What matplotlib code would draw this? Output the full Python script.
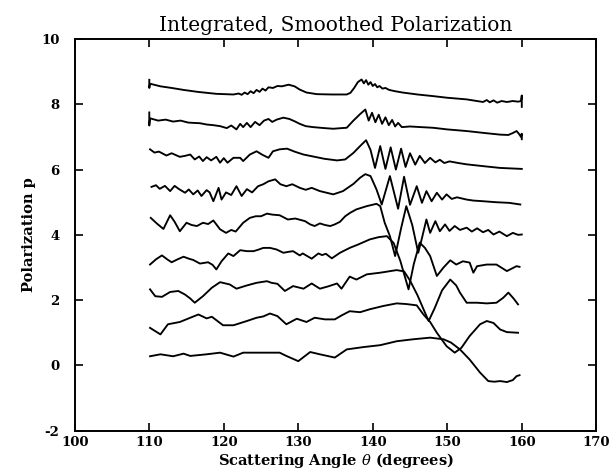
import matplotlib
matplotlib.use("Agg")
import matplotlib.pyplot as plt

plt.rcParams['font.family'] = ['DejaVu Serif']
plt.rcParams['mathtext.fontset'] = 'dejavuserif'

# ---- data (scattering angle in degrees, polarization) ----
c8_x = [110, 110, 110.1, 111.5, 113, 114.6, 116.5, 119, 121.3, 122.0, 122.4, 122.8, 123.2, 123.6, 124.0,
        124.4, 124.8, 125.2, 125.6, 126.0, 126.6, 127.2, 127.8, 128.7, 129.5, 130.2, 131.1, 132.5, 134.5,
        136.5, 137.0, 137.5, 138.0, 138.5, 138.8, 139.1, 139.4, 139.7, 140.0, 140.3, 140.6, 140.9, 141.3,
        141.7, 142.2, 143.0, 144.0, 146, 148.1, 150, 152.6, 154.8, 155.3, 155.7, 156.2, 156.7, 157.3, 158,
        158.8, 159.5, 159.9, 160, 160]
c8_y = [8.75, 8.5, 8.63, 8.55, 8.5, 8.44, 8.38, 8.32, 8.3, 8.33, 8.29, 8.36, 8.31, 8.4, 8.34,
        8.44, 8.38, 8.48, 8.42, 8.52, 8.5, 8.56, 8.55, 8.6, 8.55, 8.45, 8.36, 8.31, 8.3,
        8.3, 8.35, 8.5, 8.68, 8.76, 8.64, 8.74, 8.6, 8.68, 8.56, 8.62, 8.52, 8.56, 8.48,
        8.5, 8.44, 8.4, 8.36, 8.3, 8.25, 8.2, 8.15, 8.07, 8.13, 8.06, 8.12, 8.05, 8.1, 8.07,
        8.1, 8.08, 8.1, 8.27, 7.92]

c7_x = [110, 110, 110.1, 111.2, 112.2, 113.2, 114.2, 115.2, 115.9, 116.8, 117.7, 118.6, 119.5, 120.4, 121.0,
        121.7, 122.2, 122.6, 123.1, 123.6, 124.2, 124.8, 125.4, 126.0, 126.5, 127.1, 128.0, 128.8, 129.5,
        130.2, 131.0, 132.0, 133.5, 134.7, 135.8, 136.5, 137.4, 138.3, 139.0, 139.45, 139.9, 140.35, 140.8,
        141.25, 141.7, 142.15, 142.6, 143.0, 143.4, 143.9, 145, 146.5, 148.1, 150, 152.6, 155, 157.1, 158.2,
        158.8, 159.3, 159.6, 159.9, 160, 160]
c7_y = [7.75, 7.35, 7.57, 7.5, 7.53, 7.47, 7.5, 7.44, 7.43, 7.42, 7.38, 7.36, 7.33, 7.27, 7.35,
        7.23, 7.4, 7.3, 7.43, 7.3, 7.46, 7.36, 7.5, 7.55, 7.46, 7.53, 7.59, 7.55, 7.48,
        7.4, 7.33, 7.3, 7.27, 7.25, 7.27, 7.28, 7.5, 7.7, 7.84, 7.5, 7.74, 7.45, 7.68,
        7.4, 7.6, 7.36, 7.52, 7.32, 7.43, 7.3, 7.32, 7.3, 7.28, 7.23, 7.18, 7.12, 7.07, 7.06,
        7.12, 7.18, 7.1, 7.0, 7.1, 6.93]

c6_x = [110.1, 110.7, 111.3, 112.3, 113.0, 114.1, 114.8, 115.5, 116.1, 116.7, 117.2, 117.7, 118.3, 119.0,
        119.5, 120.0, 120.5, 121.3, 122.2, 122.6, 123.5, 124.4, 125.2, 126.0, 126.6, 127.5, 128.5, 129.5,
        130.7, 132.0, 133.5, 135.2, 136.3, 137.4, 138.3, 139.1, 139.7, 140.3, 141.0, 141.7, 142.4, 143.1,
        143.8, 144.4, 145.0, 145.7, 146.3, 147.0, 147.7, 148.4, 149.0, 149.6, 150.3, 151.5, 152.6, 155,
        157.1, 160]
c6_y = [6.62, 6.52, 6.55, 6.43, 6.5, 6.39, 6.42, 6.46, 6.31, 6.4, 6.26, 6.38, 6.28, 6.39,
        6.21, 6.35, 6.21, 6.36, 6.36, 6.26, 6.46, 6.56, 6.45, 6.36, 6.56, 6.62, 6.64, 6.55,
        6.46, 6.4, 6.33, 6.28, 6.31, 6.51, 6.72, 6.9, 6.6, 6.05, 6.72, 6.02, 6.68, 6.0,
        6.64, 6.08, 6.5, 6.15, 6.42, 6.2, 6.36, 6.22, 6.3, 6.2, 6.25, 6.2, 6.16, 6.1,
        6.05, 6.02]

c5_x = [110.3, 110.9, 111.4, 112.1, 112.8, 113.4, 114.0, 114.8, 115.3, 115.9, 116.5, 117.0, 117.7, 118.1,
        118.6, 119.3, 119.7, 120.3, 121.0, 121.7, 122.4, 123.1, 123.8, 124.6, 125.3, 126.0, 126.9, 127.6,
        128.4, 129.2, 130.2, 131.0, 131.8, 132.9, 133.8, 134.7, 136.0, 137.4, 138.3, 139.0, 139.7, 140.5,
        141.2, 142.3, 143.4, 144.2, 145.0, 145.9, 146.6, 147.2, 147.9, 148.6, 149.3, 149.9, 150.6, 151.3,
        152.6, 153.5, 154.8, 156.5, 158.3, 159.8]
c5_y = [5.47, 5.52, 5.41, 5.5, 5.34, 5.5, 5.4, 5.29, 5.39, 5.24, 5.36, 5.19, 5.37, 5.3,
        5.03, 5.44, 5.08, 5.3, 5.22, 5.49, 5.19, 5.4, 5.3, 5.49, 5.55, 5.64, 5.7, 5.55,
        5.49, 5.55, 5.44, 5.38, 5.44, 5.34, 5.29, 5.24, 5.34, 5.56, 5.75, 5.86, 5.8, 5.39,
        4.93, 5.8, 4.8, 5.78, 4.92, 5.49, 4.98, 5.34, 5.03, 5.29, 5.08, 5.24, 5.1, 5.15,
        5.08, 5.05, 5.03, 5.0, 4.98, 4.93]

c4_x = [110.2, 111.0, 111.9, 112.8, 113.4, 114.1, 115.0, 115.7, 116.4, 117.2, 117.9, 118.6, 119.5, 120.3,
        121.0, 121.6, 122.6, 123.5, 124.3, 125.0, 125.8, 126.5, 127.5, 128.6, 129.6, 130.9, 131.6, 132.2,
        132.9, 133.6, 134.3, 134.9, 135.6, 136.3, 137.0, 137.8, 139.2, 140.5, 141.0, 141.6, 142.3, 143.0,
        143.8, 144.5, 145.3, 146.1, 146.6, 147.2, 147.7, 148.4, 149.0, 149.7, 150.3, 151.0, 151.7, 152.6,
        153.3, 154.0, 154.8, 155.5, 156.2, 157.0, 158.0, 158.8, 159.5, 160]
c4_y = [4.52, 4.35, 4.18, 4.6, 4.4, 4.11, 4.37, 4.3, 4.27, 4.37, 4.33, 4.44, 4.17, 4.06,
        4.15, 4.1, 4.37, 4.52, 4.57, 4.57, 4.65, 4.62, 4.6, 4.47, 4.5, 4.42, 4.32, 4.27,
        4.35, 4.3, 4.27, 4.32, 4.4, 4.57, 4.68, 4.78, 4.88, 4.95, 4.88, 4.37, 3.96, 3.35,
        4.2, 4.88, 4.3, 3.45, 3.9, 4.47, 4.06, 4.42, 4.11, 4.32, 4.12, 4.27, 4.15, 4.22,
        4.1, 4.2, 4.08, 4.15, 4.01, 4.1, 3.96, 4.06, 4.0, 4.01]

c3_x = [110.1, 110.9, 111.7, 112.4, 113.0, 113.8, 114.6, 115.3, 115.9, 116.8, 117.9, 118.5, 119.0, 119.7,
        120.6, 121.3, 122.2, 123.1, 124.0, 124.7, 125.3, 126.2, 127.1, 128.0, 128.7, 129.3, 130.2, 130.6,
        131.2, 131.8, 132.7, 133.2, 133.7, 134.5, 135.6, 136.9, 138.0, 139.6, 140.8, 141.9, 142.8, 143.7,
        144.8, 145.5, 146.3, 147.0, 147.7, 148.6, 149.5, 150.4, 151.2, 152.1, 153.0, 153.5, 154.0, 155.3,
        156.6, 158.0, 159.3, 159.7]
c3_y = [3.09, 3.25, 3.37, 3.25, 3.16, 3.25, 3.33, 3.27, 3.23, 3.12, 3.16, 3.08, 2.94, 3.19,
        3.43, 3.35, 3.53, 3.5, 3.5, 3.55, 3.6, 3.6, 3.55, 3.45, 3.48, 3.5, 3.37, 3.43,
        3.35, 3.27, 3.43, 3.38, 3.42, 3.28, 3.45, 3.6, 3.7, 3.86, 3.93, 3.96, 3.75, 3.2,
        2.33, 3.1, 3.76, 3.6, 3.35, 2.74, 3.0, 3.22, 3.09, 3.19, 3.15, 2.84, 3.04, 3.09,
        3.09, 2.89, 3.04, 3.02]

c2_x = [110.1, 110.8, 111.7, 112.8, 113.9, 114.8, 115.5, 116.1, 117.2, 118.4, 119.5, 120.8, 121.7, 123.1,
        124.4, 125.8, 126.4, 127.2, 128.2, 129.3, 130.7, 131.8, 132.9, 134.0, 135.2, 135.8, 136.9, 137.8,
        139.2, 141.0, 143.2, 144.2, 145.0, 146.0, 147.0, 147.5, 148.3, 149.3, 150.4, 151.2, 151.7, 152.6,
        154.0, 155.3, 156.6, 157.5, 158.2, 158.9, 159.5]
c2_y = [2.33, 2.12, 2.1, 2.25, 2.28, 2.17, 2.05, 1.92, 2.12, 2.38, 2.55, 2.48, 2.35, 2.45,
        2.53, 2.58, 2.53, 2.5, 2.28, 2.43, 2.35, 2.51, 2.35, 2.42, 2.51, 2.35, 2.72, 2.63,
        2.79, 2.84, 2.92, 2.88, 2.6, 2.15, 1.62, 1.36, 1.75, 2.3, 2.63, 2.45, 2.23, 1.92,
        1.92, 1.9, 1.92, 2.07, 2.23, 2.05, 1.87]

c1_x = [110.1, 111.5, 112.5, 114.1, 115.5, 116.6, 117.7, 118.4, 119.9, 121.3, 123.1, 124.4, 125.3, 126.2,
        127.2, 128.4, 129.8, 131.1, 132.2, 133.6, 134.9, 135.8, 136.9, 138.3, 139.6, 141.4, 143.2, 144.5,
        145.9, 146.8, 147.7, 148.6, 149.9, 151.0, 151.9, 153.0, 154.4, 155.3, 156.2, 157.1, 158.0, 159.5]
c1_y = [1.15, 0.95, 1.26, 1.33, 1.46, 1.56, 1.44, 1.49, 1.23, 1.23, 1.36, 1.46, 1.5, 1.59,
        1.51, 1.26, 1.43, 1.33, 1.46, 1.41, 1.41, 1.53, 1.66, 1.63, 1.72, 1.82, 1.9, 1.88,
        1.84, 1.56, 1.33, 1.0, 0.59, 0.39, 0.54, 0.9, 1.26, 1.36, 1.3, 1.1, 1.02, 1.0]

c0_x = [110.1, 111.5, 113.2, 114.6, 115.5, 117.7, 119.5, 121.3, 122.6, 124.9, 126.5, 127.5, 128.4, 130.0,
        131.6, 132.9, 134.9, 136.5, 138.7, 141.0, 143.2, 145.4, 147.7, 149.5, 150.5, 151.7, 153.0, 154.4,
        155.5, 156.3, 157.1, 158.0, 158.8, 159.3, 159.7]
c0_y = [0.28, 0.34, 0.28, 0.36, 0.29, 0.34, 0.39, 0.27, 0.39, 0.39, 0.39, 0.39, 0.29, 0.13,
        0.41, 0.34, 0.24, 0.49, 0.56, 0.62, 0.74, 0.8, 0.85, 0.8, 0.7, 0.49, 0.18, -0.22,
        -0.48, -0.5, -0.48, -0.51, -0.45, -0.33, -0.3]

curves = [(c0_x, c0_y), (c1_x, c1_y), (c2_x, c2_y), (c3_x, c3_y), (c4_x, c4_y),
          (c5_x, c5_y), (c6_x, c6_y), (c7_x, c7_y), (c8_x, c8_y)]

x_ticks = [100, 110, 120, 130, 140, 150, 160, 170]
y_ticks = [-2, 0, 2, 4, 6, 8, 10]

title = "Integrated, Smoothed Polarization"
x_label = r"Scattering Angle $\theta$ (degrees)"
y_label = "Polarization p"

# ---- figure ----
fig = plt.figure(figsize=(6.10, 4.75), dpi=100)
ax = fig.add_axes([0.1226, 0.0933, 0.8549, 0.8246])

for cx, cy in curves:
    ax.plot(cx, cy, color='black', lw=1.35, solid_joinstyle='round')

ax.set_xlim(100, 170)
ax.set_ylim(-2, 10)
ax.set_xticks(x_ticks)
ax.set_yticks(y_ticks)
ax.set_xticklabels([str(t) for t in x_ticks], fontsize=9.5, fontweight='bold')
ax.set_yticklabels([str(t) for t in y_ticks], fontsize=9.5, fontweight='bold')
ax.tick_params(direction='in', length=6, width=1.2, top=True, right=True)
ax.tick_params(axis='x', pad=4)
ax.tick_params(axis='y', pad=11)
for s in ax.spines.values():
    s.set_linewidth(1.4)

ax.set_title(title, fontsize=14.5, pad=6)
ax.set_xlabel(x_label, fontsize=10.5, fontweight='bold', labelpad=1)
ax.set_ylabel(y_label, fontsize=10.5, fontweight='bold', labelpad=4)

fig.savefig("out.png", dpi=100)
